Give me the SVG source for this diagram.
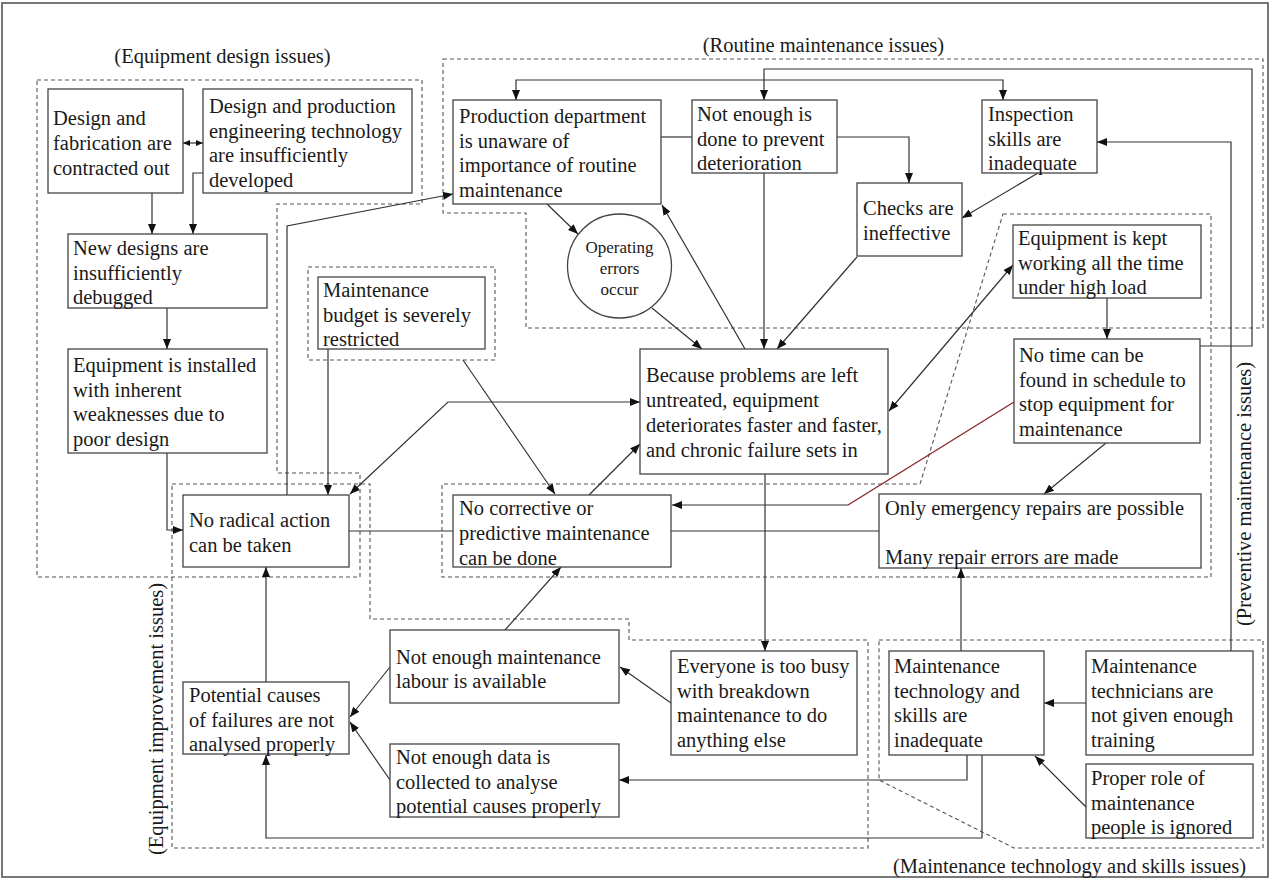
<svg xmlns="http://www.w3.org/2000/svg" width="1272" height="880" viewBox="0 0 1272 880" font-family="'Liberation Serif', 'Times New Roman', 'DejaVu Serif', serif">
<defs>
<style>
.box{fill:#fff;stroke:#444;stroke-width:1.3}
.grp{fill:none;stroke:#555;stroke-width:1.1;stroke-dasharray:4 3}
.c{fill:none;stroke:#333;stroke-width:1.2}
.red{fill:none;stroke:#8a2a2a;stroke-width:1.4}
text{font-family:'Liberation Serif','Times New Roman','DejaVu Serif',serif;font-size:20.5px;fill:#1a1a1a}
.sm{font-size:17px}
</style>
<marker id="a" markerUnits="userSpaceOnUse" markerWidth="11" markerHeight="9" refX="10" refY="4" orient="auto-start-reverse" viewBox="0 0 11 9">
<path d="M0,0 L10,4 L0,8 z" fill="#111"/>
</marker>
<marker id="s" markerUnits="userSpaceOnUse" markerWidth="8" markerHeight="7" refX="7" refY="3" orient="auto-start-reverse" viewBox="0 0 8 7">
<path d="M0,0 L7,3 L0,6 z" fill="#111"/>
</marker>
</defs>
<rect width="1272" height="880" fill="#fff"/>
<rect x="2" y="3" width="1266" height="874" fill="none" stroke="#555" stroke-width="1.6"/>

<g id="groups">
<path class="grp" d="M37,80 H422 V204 H277 V473 H360 V577 H37 Z"/>
<path class="grp" d="M443,59 H1263 V328 H526 V213 H443 Z"/>
<rect class="grp" x="308" y="267" width="187" height="93"/>
<path class="grp" d="M1003,214 H1211 V577 H442 V484 H920 Z"/>
<path class="grp" d="M172,484 H370 V619 H629 V640 H868 V848 H172 Z"/>
<path class="grp" d="M879,640 H1263 V848 H1014 L879,780 Z"/>
<text x="222.5" y="63" text-anchor="middle">(Equipment design issues)</text>
<text x="823.5" y="52" text-anchor="middle">(Routine maintenance issues)</text>
<text x="1069.5" y="873" text-anchor="middle">(Maintenance technology and skills issues)</text>
<text transform="translate(1251,494) rotate(-90)" text-anchor="middle">(Preventive maintenance issues)</text>
<text transform="translate(163,719) rotate(-90)" text-anchor="middle">(Equipment improvement issues)</text>
</g>

<g id="connectors">
<path class="c" d="M183,143 H203" marker-start="url(#s)" marker-end="url(#s)"/>
<path class="c" d="M152,193 V234" marker-end="url(#a)"/>
<path class="c" d="M203,173 H193 V234" marker-end="url(#a)"/>
<path class="c" d="M167,308 V349" marker-end="url(#a)"/>
<path class="c" d="M167,453 V530 H183" marker-end="url(#a)"/>
<path class="c" d="M287,495 V226 L453,194" marker-end="url(#a)"/>
<path class="c" d="M328,349 V495" marker-end="url(#a)"/>
<path class="c" d="M463,360 L555,494" marker-end="url(#a)"/>
<path class="c" d="M640,402 H448 L350,494" marker-start="url(#a)" marker-end="url(#a)"/>
<path class="c" d="M349,531 H453"/>
<path class="c" d="M671,531 H879"/>
<path class="c" d="M589,495 L640,444" marker-end="url(#a)"/>
<path class="c" d="M1200,346 H1252 V69 H764 V100" marker-end="url(#a)"/>
<path class="c" d="M764,80 H516 V100" marker-end="url(#a)"/>
<path class="c" d="M764,80 H1003 V100" marker-end="url(#a)"/>
<path class="c" d="M661,137 H692"/>
<path class="c" d="M837,137 H909 V183" marker-end="url(#a)"/>
<path class="c" d="M547,204 L578,234" marker-end="url(#a)"/>
<path class="c" d="M652,308 L702,349" marker-end="url(#a)"/>
<path class="c" d="M745,349 L662,205" marker-end="url(#a)"/>
<path class="c" d="M764,173 V349" marker-end="url(#a)"/>
<path class="c" d="M857,257 L777,349" marker-end="url(#a)"/>
<path class="c" d="M1038,173 L962,218" marker-end="url(#a)"/>
<path class="c" d="M1231,651 V142 H1097" marker-end="url(#a)"/>
<path class="c" d="M889,411 L1013,265" marker-start="url(#a)" marker-end="url(#a)"/>
<path class="c" d="M1107,298 V339" marker-end="url(#a)"/>
<path class="red" d="M1014,402 L848,505"/>
<path class="c" d="M848,505 H672" marker-end="url(#a)"/>
<path class="c" d="M1106,443 L1044,494" marker-end="url(#a)"/>
<path class="c" d="M765,474 V651" marker-end="url(#a)"/>
<path class="c" d="M961,651 V568" marker-end="url(#a)"/>
<path class="c" d="M671,703 L620,667" marker-end="url(#a)"/>
<path class="c" d="M390,667 L350,717" marker-end="url(#a)"/>
<path class="c" d="M390,780 L350,722" marker-end="url(#a)"/>
<path class="c" d="M505,630 L561,567" marker-end="url(#a)"/>
<path class="c" d="M266,682 V567" marker-end="url(#a)"/>
<path class="c" d="M967,755 V780 H619" marker-end="url(#a)"/>
<path class="c" d="M982,755 V838 H266 V755" marker-end="url(#a)"/>
<path class="c" d="M1086,703 H1044" marker-end="url(#a)"/>
<path class="c" d="M1086,807 L1035,756" marker-end="url(#a)"/>
</g>

<g id="n1"><rect class="box" x="48" y="89" width="135" height="104"/>
<text x="53" y="125">Design and</text><text x="53" y="150">fabrication are</text><text x="53" y="175">contracted out</text></g>

<g id="n2"><rect class="box" x="203" y="89" width="209" height="104"/>
<text x="209" y="113">Design and production</text><text x="209" y="137.5">engineering technology</text><text x="209" y="162">are insufficiently</text><text x="209" y="186.5">developed</text></g>

<g id="n3"><rect class="box" x="68" y="234" width="199" height="74"/>
<text x="73" y="255">New designs are</text><text x="73" y="279.5">insufficiently</text><text x="73" y="304">debugged</text></g>

<g id="n4"><rect class="box" x="68" y="349" width="199" height="104"/>
<text x="73" y="372">Equipment is installed</text><text x="73" y="396.5">with inherent</text><text x="73" y="421">weaknesses due to</text><text x="73" y="445.5">poor design</text></g>

<g id="n5"><rect class="box" x="318" y="277" width="167" height="72"/>
<text x="323" y="297">Maintenance</text><text x="323" y="321.5">budget is severely</text><text x="323" y="346">restricted</text></g>

<g id="n6"><rect class="box" x="453" y="100" width="208" height="104"/>
<text x="459" y="123">Production department</text><text x="459" y="147.5">is unaware of</text><text x="459" y="172">importance of routine</text><text x="459" y="196.5">maintenance</text></g>

<g id="n7"><rect class="box" x="692" y="100" width="145" height="73"/>
<text x="697" y="121">Not enough is</text><text x="697" y="145.5">done to prevent</text><text x="697" y="170">deterioration</text></g>

<g id="n8"><rect class="box" x="982" y="100" width="115" height="73"/>
<text x="988" y="121">Inspection</text><text x="988" y="145.5">skills are</text><text x="988" y="170">inadequate</text></g>

<g id="n9"><rect class="box" x="857" y="183" width="105" height="73"/>
<text x="863" y="215">Checks are</text><text x="863" y="239.5">ineffective</text></g>

<g id="n10"><circle cx="619.5" cy="266" r="52" fill="#fff" stroke="#444" stroke-width="1.3"/>
<text class="sm" x="619.5" y="253" text-anchor="middle">Operating</text><text class="sm" x="619.5" y="274" text-anchor="middle">errors</text><text class="sm" x="619.5" y="295" text-anchor="middle">occur</text></g>

<g id="n11"><rect class="box" x="1013" y="225" width="188" height="73"/>
<text x="1018" y="245">Equipment is kept</text><text x="1018" y="269.5">working all the time</text><text x="1018" y="294">under high load</text></g>

<g id="n12"><rect class="box" x="640" y="349" width="248" height="125"/>
<text x="646" y="382">Because problems are left</text><text x="646" y="407">untreated, equipment</text><text x="646" y="432">deteriorates faster and faster,</text><text x="646" y="457">and chronic failure sets in</text></g>

<g id="n13"><rect class="box" x="1014" y="339" width="186" height="104"/>
<text x="1019" y="362">No time can be</text><text x="1019" y="386.5">found in schedule to</text><text x="1019" y="411">stop equipment for</text><text x="1019" y="435.5">maintenance</text></g>

<g id="n14"><rect class="box" x="183" y="495" width="166" height="72"/>
<text x="189" y="527">No radical action</text><text x="189" y="552">can be taken</text></g>

<g id="n15"><rect class="box" x="453" y="495" width="218" height="72"/>
<text x="459" y="515">No corrective or</text><text x="459" y="540">predictive maintenance</text><text x="459" y="565">can be done</text></g>

<g id="n16"><rect class="box" x="879" y="494" width="322" height="74"/>
<text x="885" y="515">Only emergency repairs are possible</text><text x="885" y="564">Many repair errors are made</text></g>

<g id="n17"><rect class="box" x="671" y="651" width="186" height="104"/>
<text x="677" y="673">Everyone is too busy</text><text x="677" y="697.5">with breakdown</text><text x="677" y="722">maintenance to do</text><text x="677" y="746.5">anything else</text></g>

<g id="n18"><rect class="box" x="889" y="651" width="155" height="104"/>
<text x="894" y="673">Maintenance</text><text x="894" y="697.5">technology and</text><text x="894" y="722">skills are</text><text x="894" y="746.5">inadequate</text></g>

<g id="n19"><rect class="box" x="1086" y="651" width="167" height="104"/>
<text x="1091" y="673">Maintenance</text><text x="1091" y="697.5">technicians are</text><text x="1091" y="722">not given enough</text><text x="1091" y="746.5">training</text></g>

<g id="n20"><rect class="box" x="1086" y="764" width="167" height="74"/>
<text x="1091" y="785">Proper role of</text><text x="1091" y="809.5">maintenance</text><text x="1091" y="834">people is ignored</text></g>

<g id="n21"><rect class="box" x="183" y="682" width="166" height="72"/>
<text x="189" y="702">Potential causes</text><text x="189" y="726.5">of failures are not</text><text x="189" y="751">analysed properly</text></g>

<g id="n22"><rect class="box" x="390" y="630" width="229" height="73"/>
<text x="396" y="664">Not enough maintenance</text><text x="396" y="688">labour is available</text></g>

<g id="n23"><rect class="box" x="390" y="744" width="229" height="73"/>
<text x="396" y="764">Not enough data is</text><text x="396" y="788.5">collected to analyse</text><text x="396" y="813">potential causes properly</text></g>
</svg>
